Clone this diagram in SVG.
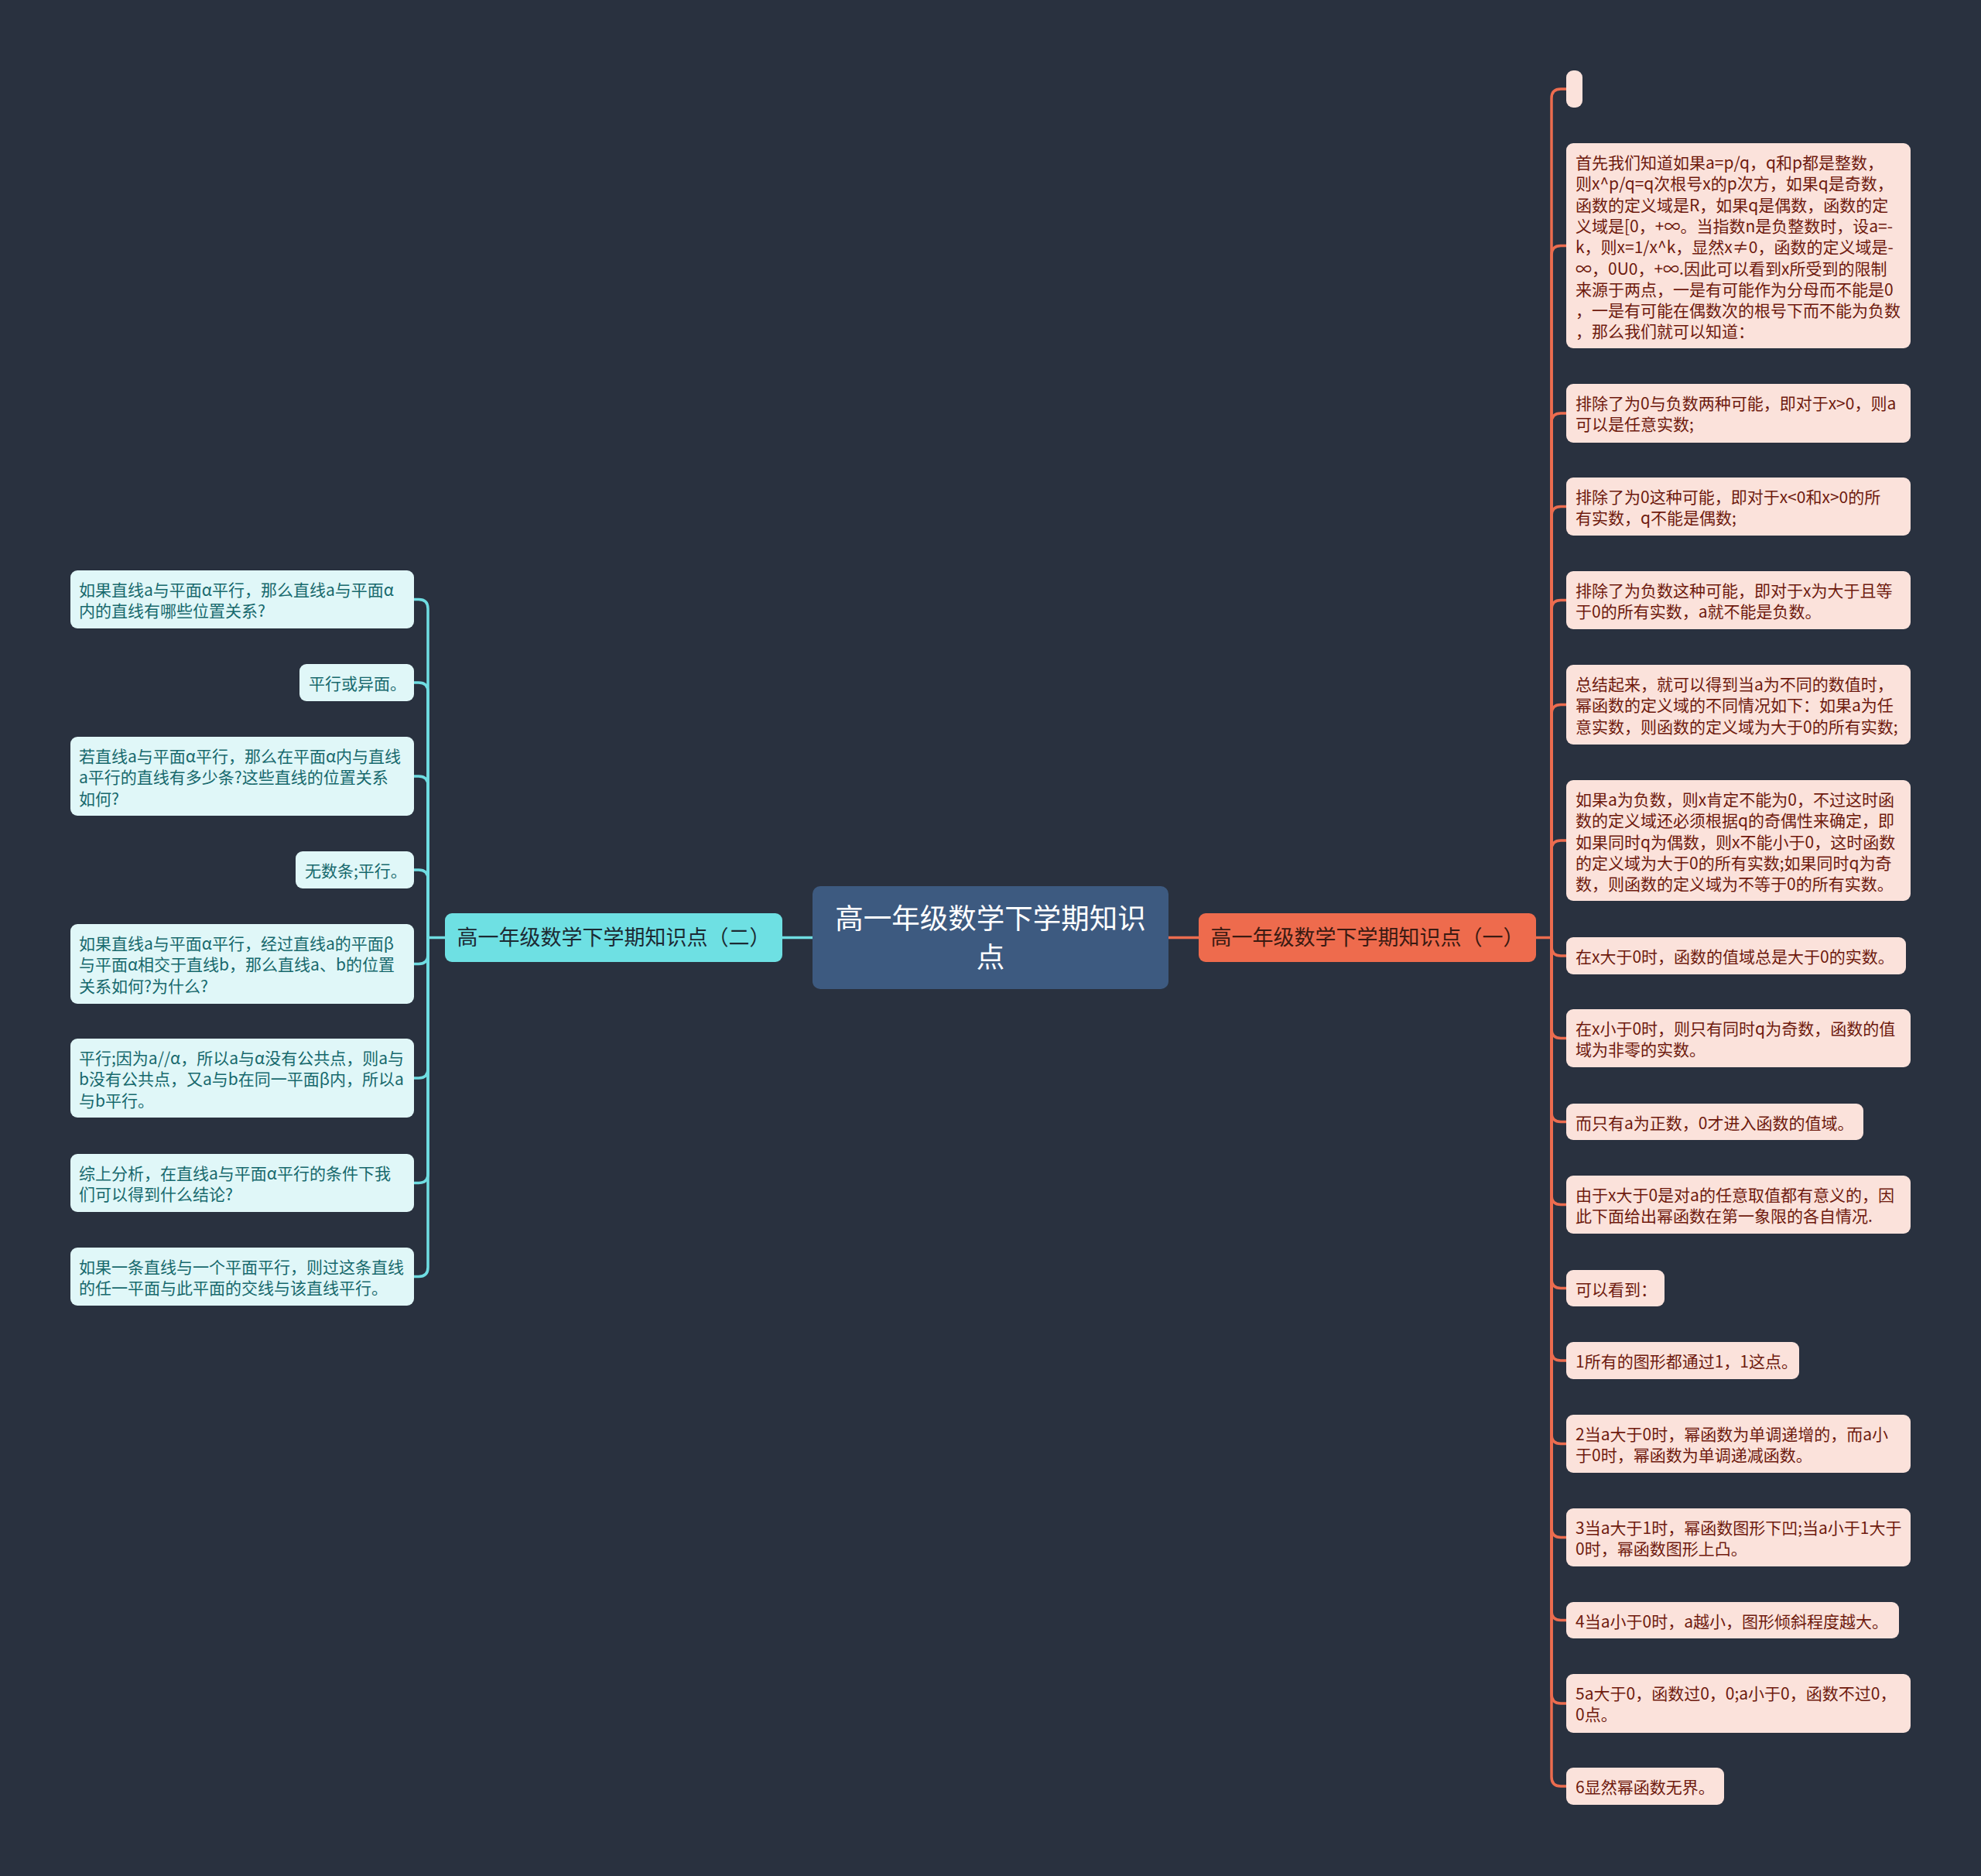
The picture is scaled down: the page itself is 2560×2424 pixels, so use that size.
<svg xmlns="http://www.w3.org/2000/svg" width="2560" height="2424" viewBox="0 0 2560 2424">
<style>
text{font-family:"Noto Sans CJK SC","Noto Sans",sans-serif}
.rn{fill:#fbe2db}
.ln{fill:#e0f7f8}
.rt{font-size:21px;fill:#6e1a0e}
.lt{font-size:21px;fill:#17696d}
.rc{fill:none;stroke:#ec6c4f;stroke-width:3.5}
.lc{fill:none;stroke:#6fdde2;stroke-width:3.5}
</style>
<rect width="2560" height="2424" fill="#29313f"/>
<g id="connectors">
<path class="lc" d="M1011 1211.5H1050" stroke-width="4"/>
<path class="rc" d="M1510 1211.5H1549" stroke-width="4"/>
<path class="rc" d="M1985 1211.5H2005"/>
<path class="rc" d="M2005 1211.5V127Q2005 115 2017 115H2024"/>
<path class="rc" d="M2005 1211.5V329.5Q2005 317.5 2017 317.5H2024"/>
<path class="rc" d="M2005 1211.5V546Q2005 534 2017 534H2024"/>
<path class="rc" d="M2005 1211.5V666.5Q2005 654.5 2017 654.5H2024"/>
<path class="rc" d="M2005 1211.5V787.5Q2005 775.5 2017 775.5H2024"/>
<path class="rc" d="M2005 1211.5V922.5Q2005 910.5 2017 910.5H2024"/>
<path class="rc" d="M2005 1211.5V1098Q2005 1086 2017 1086H2024"/>
<path class="rc" d="M2005 1211.5V1223Q2005 1235 2017 1235H2024"/>
<path class="rc" d="M2005 1211.5V1329.5Q2005 1341.5 2017 1341.5H2024"/>
<path class="rc" d="M2005 1211.5V1437.5Q2005 1449.5 2017 1449.5H2024"/>
<path class="rc" d="M2005 1211.5V1544.5Q2005 1556.5 2017 1556.5H2024"/>
<path class="rc" d="M2005 1211.5V1652.5Q2005 1664.5 2017 1664.5H2024"/>
<path class="rc" d="M2005 1211.5V1746Q2005 1758 2017 1758H2024"/>
<path class="rc" d="M2005 1211.5V1853.5Q2005 1865.5 2017 1865.5H2024"/>
<path class="rc" d="M2005 1211.5V1974.5Q2005 1986.5 2017 1986.5H2024"/>
<path class="rc" d="M2005 1211.5V2081.5Q2005 2093.5 2017 2093.5H2024"/>
<path class="rc" d="M2005 1211.5V2189Q2005 2201 2017 2201H2024"/>
<path class="rc" d="M2005 1211.5V2296Q2005 2308 2017 2308H2024"/>
<path class="lc" d="M575 1211.5H553"/>
<path class="lc" d="M553 1211.5V786.5Q553 774.5 541 774.5H535"/>
<path class="lc" d="M553 1211.5V894Q553 882 541 882H535"/>
<path class="lc" d="M553 1211.5V1015Q553 1003 541 1003H535"/>
<path class="lc" d="M553 1211.5V1136Q553 1124 541 1124H535"/>
<path class="lc" d="M553 1211.5V1233.5Q553 1245.5 541 1245.5H535"/>
<path class="lc" d="M553 1211.5V1381Q553 1393 541 1393H535"/>
<path class="lc" d="M553 1211.5V1516.5Q553 1528.5 541 1528.5H535"/>
<path class="lc" d="M553 1211.5V1637.5Q553 1649.5 541 1649.5H535"/>
</g>
<g id="center">
<rect x="1050" y="1145" width="460" height="133" rx="10" fill="#3d5a80"/>
<text x="1280" y="1200" font-size="36.5" fill="#ffffff" text-anchor="middle">高一年级数学下学期知识</text>
<text x="1280" y="1250" font-size="36.5" fill="#ffffff" text-anchor="middle">点</text>
</g>
<g id="branch-left">
<rect x="575" y="1180" width="436" height="63" rx="9" fill="#6ee0e3"/>
<text x="793" y="1221" font-size="27" fill="#1c2a33" text-anchor="middle">高一年级数学下学期知识点（二）</text>
</g>
<g id="branch-right">
<rect x="1549" y="1180" width="436" height="63" rx="9" fill="#ee6b4d"/>
<text x="1767" y="1221" font-size="27" fill="#3a1a12" text-anchor="middle">高一年级数学下学期知识点（一）</text>
</g>
<g id="r0"><rect class="rn" x="2024" y="91" width="21" height="48" rx="9"/></g>
<g id="r1"><rect class="rn" x="2024" y="185" width="445" height="265" rx="9"/>
<text class="rt"><tspan x="2036" y="218">首先我们知道如果a=p/q，q和p都是整数，</tspan><tspan x="2036" dy="27.3">则x^p/q=q次根号x的p次方，如果q是奇数，</tspan><tspan x="2036" dy="27.3">函数的定义域是R，如果q是偶数，函数的定</tspan><tspan x="2036" dy="27.3">义域是[0，+∞。当指数n是负整数时，设a=-</tspan><tspan x="2036" dy="27.3">k，则x=1/x^k，显然x≠0，函数的定义域是-</tspan><tspan x="2036" dy="27.3">∞，0U0，+∞.因此可以看到x所受到的限制</tspan><tspan x="2036" dy="27.3">来源于两点，一是有可能作为分母而不能是0</tspan><tspan x="2036" dy="27.3">，一是有可能在偶数次的根号下而不能为负数</tspan><tspan x="2036" dy="27.3">，那么我们就可以知道：</tspan></text></g>
<g id="r2"><rect class="rn" x="2024" y="496" width="445" height="76" rx="9"/>
<text class="rt"><tspan x="2036" y="529">排除了为0与负数两种可能，即对于x&gt;0，则a</tspan><tspan x="2036" dy="27.3">可以是任意实数;</tspan></text></g>
<g id="r3"><rect class="rn" x="2024" y="617" width="445" height="75" rx="9"/>
<text class="rt"><tspan x="2036" y="650">排除了为0这种可能，即对于x&lt;0和x&gt;0的所</tspan><tspan x="2036" dy="27.3">有实数，q不能是偶数;</tspan></text></g>
<g id="r4"><rect class="rn" x="2024" y="738" width="445" height="75" rx="9"/>
<text class="rt"><tspan x="2036" y="771">排除了为负数这种可能，即对于x为大于且等</tspan><tspan x="2036" dy="27.3">于0的所有实数，a就不能是负数。</tspan></text></g>
<g id="r5"><rect class="rn" x="2024" y="859" width="445" height="103" rx="9"/>
<text class="rt"><tspan x="2036" y="892">总结起来，就可以得到当a为不同的数值时，</tspan><tspan x="2036" dy="27.3">幂函数的定义域的不同情况如下：如果a为任</tspan><tspan x="2036" dy="27.3">意实数，则函数的定义域为大于0的所有实数;</tspan></text></g>
<g id="r6"><rect class="rn" x="2024" y="1008" width="445" height="156" rx="9"/>
<text class="rt"><tspan x="2036" y="1041">如果a为负数，则x肯定不能为0，不过这时函</tspan><tspan x="2036" dy="27.3">数的定义域还必须根据q的奇偶性来确定，即</tspan><tspan x="2036" dy="27.3">如果同时q为偶数，则x不能小于0，这时函数</tspan><tspan x="2036" dy="27.3">的定义域为大于0的所有实数;如果同时q为奇</tspan><tspan x="2036" dy="27.3">数，则函数的定义域为不等于0的所有实数。</tspan></text></g>
<g id="r7"><rect class="rn" x="2024" y="1211" width="439" height="48" rx="9"/>
<text class="rt" x="2036" y="1244">在x大于0时，函数的值域总是大于0的实数。</text></g>
<g id="r8"><rect class="rn" x="2024" y="1304" width="445" height="75" rx="9"/>
<text class="rt"><tspan x="2036" y="1337">在x小于0时，则只有同时q为奇数，函数的值</tspan><tspan x="2036" dy="27.3">域为非零的实数。</tspan></text></g>
<g id="r9"><rect class="rn" x="2024" y="1426" width="384" height="47" rx="9"/>
<text class="rt" x="2036" y="1459">而只有a为正数，0才进入函数的值域。</text></g>
<g id="r10"><rect class="rn" x="2024" y="1519" width="445" height="75" rx="9"/>
<text class="rt"><tspan x="2036" y="1552">由于x大于0是对a的任意取值都有意义的，因</tspan><tspan x="2036" dy="27.3">此下面给出幂函数在第一象限的各自情况.</tspan></text></g>
<g id="r11"><rect class="rn" x="2024" y="1641" width="127" height="47" rx="9"/>
<text class="rt" x="2036" y="1674">可以看到：</text></g>
<g id="r12"><rect class="rn" x="2024" y="1734" width="301" height="48" rx="9"/>
<text class="rt" x="2036" y="1767">1所有的图形都通过1，1这点。</text></g>
<g id="r13"><rect class="rn" x="2024" y="1828" width="445" height="75" rx="9"/>
<text class="rt"><tspan x="2036" y="1861">2当a大于0时，幂函数为单调递增的，而a小</tspan><tspan x="2036" dy="27.3">于0时，幂函数为单调递减函数。</tspan></text></g>
<g id="r14"><rect class="rn" x="2024" y="1949" width="445" height="75" rx="9"/>
<text class="rt"><tspan x="2036" y="1982">3当a大于1时，幂函数图形下凹;当a小于1大于</tspan><tspan x="2036" dy="27.3">0时，幂函数图形上凸。</tspan></text></g>
<g id="r15"><rect class="rn" x="2024" y="2070" width="430" height="47" rx="9"/>
<text class="rt" x="2036" y="2103">4当a小于0时，a越小，图形倾斜程度越大。</text></g>
<g id="r16"><rect class="rn" x="2024" y="2163" width="445" height="76" rx="9"/>
<text class="rt"><tspan x="2036" y="2196">5a大于0，函数过0，0;a小于0，函数不过0，</tspan><tspan x="2036" dy="27.3">0点。</tspan></text></g>
<g id="r17"><rect class="rn" x="2024" y="2284" width="204" height="48" rx="9"/>
<text class="rt" x="2036" y="2317">6显然幂函数无界。</text></g>
<g id="l1"><rect class="ln" x="91" y="737" width="444" height="75" rx="9"/>
<text class="lt"><tspan x="102" y="770">如果直线a与平面α平行，那么直线a与平面α</tspan><tspan x="102" dy="27.3">内的直线有哪些位置关系?</tspan></text></g>
<g id="l2"><rect class="ln" x="387" y="858" width="148" height="48" rx="9"/>
<text class="lt" x="399" y="891">平行或异面。</text></g>
<g id="l3"><rect class="ln" x="91" y="952" width="444" height="102" rx="9"/>
<text class="lt"><tspan x="102" y="985">若直线a与平面α平行，那么在平面α内与直线</tspan><tspan x="102" dy="27.3">a平行的直线有多少条?这些直线的位置关系</tspan><tspan x="102" dy="27.3">如何?</tspan></text></g>
<g id="l4"><rect class="ln" x="382" y="1100" width="153" height="48" rx="9"/>
<text class="lt" x="394" y="1133">无数条;平行。</text></g>
<g id="l5"><rect class="ln" x="91" y="1194" width="444" height="103" rx="9"/>
<text class="lt"><tspan x="102" y="1227">如果直线a与平面α平行，经过直线a的平面β</tspan><tspan x="102" dy="27.3">与平面α相交于直线b，那么直线a、b的位置</tspan><tspan x="102" dy="27.3">关系如何?为什么?</tspan></text></g>
<g id="l6"><rect class="ln" x="91" y="1342" width="444" height="102" rx="9"/>
<text class="lt"><tspan x="102" y="1375">平行;因为a//α，所以a与α没有公共点，则a与</tspan><tspan x="102" dy="27.3">b没有公共点，又a与b在同一平面β内，所以a</tspan><tspan x="102" dy="27.3">与b平行。</tspan></text></g>
<g id="l7"><rect class="ln" x="91" y="1491" width="444" height="75" rx="9"/>
<text class="lt"><tspan x="102" y="1524">综上分析，在直线a与平面α平行的条件下我</tspan><tspan x="102" dy="27.3">们可以得到什么结论?</tspan></text></g>
<g id="l8"><rect class="ln" x="91" y="1612" width="444" height="75" rx="9"/>
<text class="lt"><tspan x="102" y="1645">如果一条直线与一个平面平行，则过这条直线</tspan><tspan x="102" dy="27.3">的任一平面与此平面的交线与该直线平行。</tspan></text></g>
</svg>
